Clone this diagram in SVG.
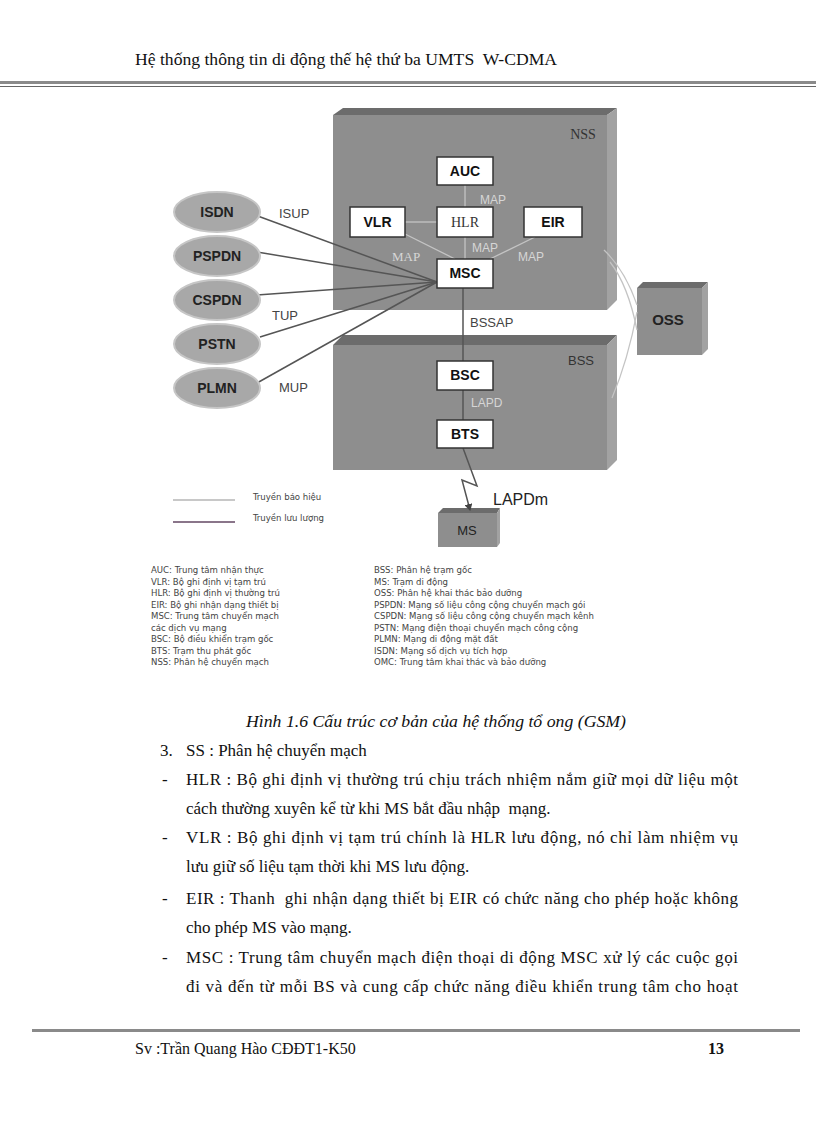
<svg xmlns="http://www.w3.org/2000/svg" width="816" height="1123" viewBox="0 0 816 1123">
<defs>
<style>
.serif{font-family:"Liberation Serif","Times New Roman",serif;fill:#111}
.box{fill:#fff;stroke:#333;stroke-width:1.5}
.bt{font-family:"Liberation Sans",Arial,sans-serif;font-weight:bold;font-size:14px;fill:#111;text-anchor:middle}
.front{fill:#8e8e8e}
.top{fill:#6c6c6c}
.side{fill:#a2a2a2}
.ell{fill:#a8a8a8;stroke:#c6c6c6;stroke-width:2}
.et{font-family:"Liberation Sans",Arial,sans-serif;font-weight:bold;font-size:14px;fill:#222;text-anchor:middle}
.sig{stroke:#c4c4c4;stroke-width:1.3;fill:none}
.traf{stroke:#555;stroke-width:1.5;fill:none}
.lbl{font-family:"Liberation Sans",Arial,sans-serif;font-size:13px;fill:#444}
.map{font-family:"Liberation Sans",Arial,sans-serif;font-size:12px;fill:#d6d6d6}
.abbr{font-family:"DejaVu Sans Condensed","Liberation Sans",sans-serif;font-size:9.5px;fill:#444}
.body{font-family:"Liberation Serif","Times New Roman",serif;font-size:17px;fill:#111}
</style>
<marker id="arr" markerWidth="8" markerHeight="8" refX="6" refY="4" orient="auto" markerUnits="userSpaceOnUse">
<path d="M0,0 L7,4 L0,8 z" fill="#444"/>
</marker>
</defs>
<rect width="816" height="1123" fill="#fff"/>

<!-- header -->
<text class="serif" x="135" y="65" font-size="16" textLength="422" lengthAdjust="spacingAndGlyphs" xml:space="preserve">Hệ thống thông tin di động thế hệ thứ ba UMTS  W-CDMA</text>
<rect x="0" y="81" width="816" height="3" fill="#8a8a8a"/>
<line x1="0" y1="86.5" x2="816" y2="86.5" stroke="#666" stroke-width="1"/>

<!-- 3D boxes -->
<g id="nss">
<rect class="front" x="333" y="115" width="274" height="195"/>
<polygon class="top" points="333,115 343,108 617,108 607,115"/>
<polygon class="side" points="607,115 617,108 617,300 607,310"/>
<text x="583" y="139" text-anchor="middle" font-family="Liberation Serif,serif" font-size="14" fill="#333">NSS</text>
</g>
<g id="bss">
<rect class="front" x="333" y="345" width="274" height="125"/>
<polygon class="top" points="333,345 343,335 617,335 607,345"/>
<polygon class="side" points="607,345 617,335 617,460 607,470"/>
<text x="581" y="365" text-anchor="middle" font-family="Liberation Sans,sans-serif" font-size="13" fill="#333">BSS</text>
</g>
<g id="oss">
<rect class="front" x="637" y="288" width="65" height="67"/>
<polygon class="top" points="637,288 643,282 708,282 702,288"/>
<polygon class="side" points="702,288 708,282 708,349 702,355"/>
<text x="668" y="325" text-anchor="middle" font-family="Liberation Sans,sans-serif" font-weight="bold" font-size="15" fill="#222">OSS</text>
</g>
<g id="ms">
<rect class="front" x="438" y="513" width="59" height="34"/>
<polygon class="top" points="438,513 443,508 500,508 497,513"/>
<polygon class="side" points="497,513 500,508 500,543 497,547"/>
<text x="467" y="535" text-anchor="middle" font-family="Liberation Sans,sans-serif" font-size="13" fill="#222">MS</text>
</g>

<!-- connectors -->
<g id="connectors">
<line class="sig" x1="465" y1="185" x2="465" y2="207"/>
<line class="sig" x1="405" y1="222" x2="437" y2="222"/>
<line class="sig" x1="465" y1="237" x2="465" y2="259"/>
<line class="sig" x1="405" y1="234" x2="455" y2="259"/>
<line class="sig" x1="535" y1="237" x2="490" y2="259"/>
<path class="sig" d="M604,250 Q625,270 637,305"/>
<path class="sig" d="M610,262 Q628,285 637,330"/>
<path class="sig" d="M612,398 Q628,360 637,312"/>
<line class="traf" x1="463" y1="288" x2="463" y2="361"/>
<line class="traf" x1="463" y1="390" x2="463" y2="420"/>
<polyline class="traf" points="463,448 477,486 462,480 470,510" marker-end="url(#arr)"/>
<line class="traf" x1="255" y1="215" x2="437" y2="282"/>
<line class="traf" x1="257" y1="252" x2="437" y2="282"/>
<line class="traf" x1="257" y1="295" x2="437" y2="282"/>
<line class="traf" x1="260" y1="337" x2="437" y2="282"/>
<line class="traf" x1="257" y1="383" x2="437" y2="282"/>
</g>

<!-- labels -->
<g id="labels">
<text class="map" x="480" y="204">MAP</text>
<text class="map" x="472" y="252">MAP</text>
<text x="392" y="261" font-family="Liberation Serif,serif" font-size="13" fill="#d6d6d6">MAP</text>
<text class="map" x="518" y="261">MAP</text>
<text class="lbl" x="470" y="327">BSSAP</text>
<text class="map" x="471" y="407">LAPD</text>
<text x="493" y="505" font-family="Liberation Sans,sans-serif" font-size="16" fill="#222">LAPDm</text>
<text class="lbl" x="279" y="218">ISUP</text>
<text class="lbl" x="272" y="320">TUP</text>
<text class="lbl" x="279" y="392">MUP</text>
</g>

<!-- inner nodes -->
<g id="auc"><rect class="box" x="437" y="157" width="56" height="28"/><text class="bt" x="465" y="176">AUC</text></g>
<g id="vlr"><rect class="box" x="350" y="207" width="55" height="30"/><text class="bt" x="377.5" y="227">VLR</text></g>
<g id="hlr"><rect class="box" x="437" y="207" width="56" height="30"/><text x="465" y="227" text-anchor="middle" font-family="Liberation Serif,serif" font-size="14" fill="#333">HLR</text></g>
<g id="eir"><rect class="box" x="524" y="207" width="58" height="30"/><text class="bt" x="553" y="227">EIR</text></g>
<g id="msc"><rect class="box" x="437" y="259" width="56" height="29"/><text class="bt" x="465" y="278">MSC</text></g>
<g id="bsc"><rect class="box" x="437" y="361" width="56" height="29"/><text class="bt" x="465" y="380">BSC</text></g>
<g id="bts"><rect class="box" x="437" y="420" width="56" height="28"/><text class="bt" x="465" y="439">BTS</text></g>

<!-- external networks -->
<g id="isdn"><ellipse class="ell" cx="217" cy="212" rx="43" ry="20"/><text class="et" x="217" y="217">ISDN</text></g>
<g id="pspdn"><ellipse class="ell" cx="217" cy="256" rx="43" ry="20"/><text class="et" x="217" y="261">PSPDN</text></g>
<g id="cspdn"><ellipse class="ell" cx="217" cy="300" rx="43" ry="20"/><text class="et" x="217" y="305">CSPDN</text></g>
<g id="pstn"><ellipse class="ell" cx="217" cy="344" rx="43" ry="20"/><text class="et" x="217" y="349">PSTN</text></g>
<g id="plmn"><ellipse class="ell" cx="217" cy="388" rx="43" ry="20"/><text class="et" x="217" y="393">PLMN</text></g>

<!-- legend -->
<g id="legend">
<line x1="173" y1="500" x2="235" y2="500" stroke="#c8c8c8" stroke-width="2"/>
<text class="abbr" x="253" y="500" font-size="10">Truyền báo hiệu</text>
<line x1="173" y1="522" x2="235" y2="522" stroke="#8a758a" stroke-width="2"/>
<text class="abbr" x="253" y="521" font-size="10">Truyền lưu lượng</text>
</g>

<!-- abbreviations -->
<g id="abbr-left" class="abbr">
<text x="151" y="573">AUC: Trung tâm nhận thực</text>
<text x="151" y="584.5">VLR: Bộ ghi định vị tạm trú</text>
<text x="151" y="596">HLR: Bộ ghi định vị thường trú</text>
<text x="151" y="607.5">EIR: Bộ ghi nhận dạng thiết bị</text>
<text x="151" y="619">MSC: Trung tâm chuyển mạch</text>
<text x="151" y="630.5">các dịch vụ mạng</text>
<text x="151" y="642">BSC: Bộ điều khiển trạm gốc</text>
<text x="151" y="653.5">BTS: Trạm thu phát gốc</text>
<text x="151" y="665">NSS: Phân hệ chuyển mạch</text>
</g>
<g id="abbr-right" class="abbr">
<text x="374" y="573">BSS: Phân hệ trạm gốc</text>
<text x="374" y="584.5">MS: Trạm di động</text>
<text x="374" y="596">OSS: Phân hệ khai thác bảo dưỡng</text>
<text x="374" y="607.5">PSPDN: Mạng số liệu công cộng chuyển mạch gói</text>
<text x="374" y="619">CSPDN: Mạng số liệu công cộng chuyển mạch kênh</text>
<text x="374" y="630.5">PSTN: Mạng điện thoại chuyển mạch công cộng</text>
<text x="374" y="642">PLMN: Mạng di động mặt đất</text>
<text x="374" y="653.5">ISDN: Mạng số dịch vụ tích hợp</text>
<text x="374" y="665">OMC: Trung tâm khai thác và bảo dưỡng</text>
</g>

<!-- caption and body -->
<text class="body" x="246" y="727" font-size="16" font-style="italic" textLength="380" lengthAdjust="spacingAndGlyphs">Hình 1.6 Cấu trúc cơ bản của hệ thống tổ ong (GSM)</text>
<text class="body" x="160" y="756">3.</text>
<text class="body" x="186" y="756">SS : Phân hệ chuyển mạch</text>
<text class="body" x="162" y="785">-</text>
<text class="body" x="186" y="785" textLength="552" lengthAdjust="spacing">HLR : Bộ ghi định vị thường trú chịu trách nhiệm nắm giữ mọi dữ liệu một</text>
<text class="body" x="186" y="814" xml:space="preserve">cách thường xuyên kể từ khi MS bắt đầu nhập  mạng.</text>
<text class="body" x="162" y="843">-</text>
<text class="body" x="186" y="843" textLength="552" lengthAdjust="spacing">VLR : Bộ ghi định vị tạm trú chính là HLR lưu động, nó chỉ làm nhiệm vụ</text>
<text class="body" x="186" y="872">lưu giữ số liệu tạm thời khi MS lưu động.</text>
<text class="body" x="162" y="904">-</text>
<text class="body" x="186" y="904" textLength="552" lengthAdjust="spacing" xml:space="preserve">EIR : Thanh  ghi nhận dạng thiết bị EIR có chức năng cho phép hoặc không</text>
<text class="body" x="186" y="933">cho phép MS vào mạng.</text>
<text class="body" x="162" y="963">-</text>
<text class="body" x="186" y="963" textLength="552" lengthAdjust="spacing">MSC : Trung tâm chuyển mạch điện thoại di động MSC xử lý các cuộc gọi</text>
<text class="body" x="186" y="992" textLength="552" lengthAdjust="spacing">đi và đến từ mỗi BS và cung cấp chức năng điều khiển trung tâm cho hoạt</text>

<!-- footer -->
<rect x="32" y="1029" width="768" height="3" fill="#8a8a8a"/>
<text class="serif" x="135" y="1054" font-size="16">Sv :Trần Quang Hào CĐĐT1-K50</text>
<text class="serif" x="708" y="1054" font-size="16" font-weight="bold">13</text>
</svg>
